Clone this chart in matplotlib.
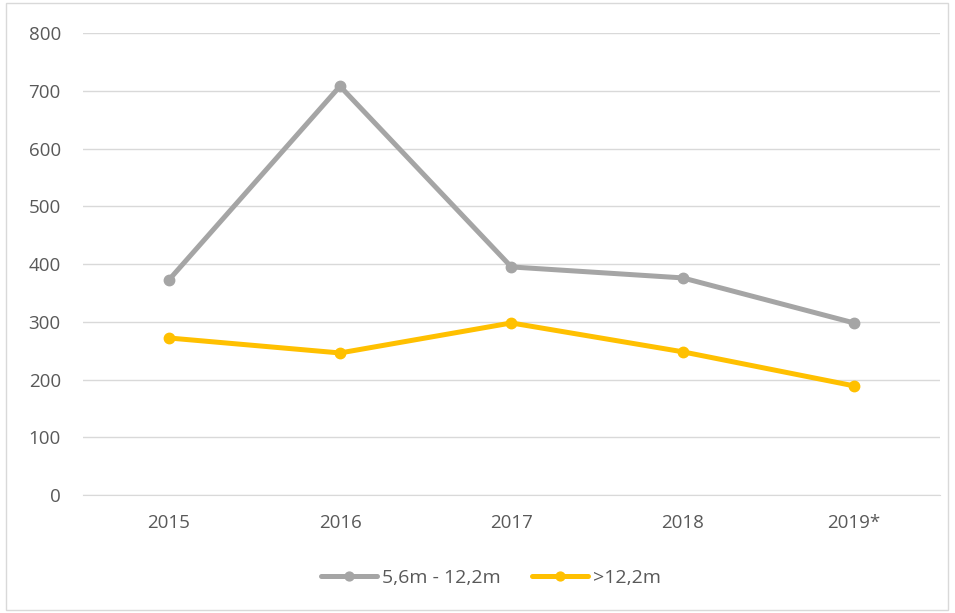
import numpy as np
import matplotlib.pyplot as plt
from matplotlib.patches import Rectangle

plt.rcParams['font.family'] = ['Open Sans', 'DejaVu Sans']

# 数据
years = ['2015', '2016', '2017', '2018', '2019*']
small = [372, 708, 395, 376, 298]   # 5,6m - 12,2m
large = [272, 246, 298, 248, 189]   # >12,2m
yticks = [0, 100, 200, 300, 400, 500, 600, 700, 800]

fig = plt.figure(figsize=(9.55, 6.13), dpi=100)
ax = fig.add_axes([0.0869, 0.1925, 0.8971, 0.7535])

# 外框
fig.patches.append(Rectangle((6 / 955, 3 / 613), 942 / 955, 607 / 613, transform=fig.transFigure,
                             fill=False, edgecolor='#D9D9D9', linewidth=1))

x = np.arange(len(years))
ax.plot(x, small, color='#A5A5A5', lw=3.6, marker='o', ms=7.5, label='5,6m - 12,2m', solid_capstyle='round')
ax.plot(x, large, color='#FFC000', lw=3.6, marker='o', ms=7.5, label='>12,2m', solid_capstyle='round')

ax.set_xlim(-0.5, len(years) - 0.5)
ax.set_ylim(0, 800)
ax.set_yticks(yticks)
ax.set_xticks(x)
ax.set_xticklabels(years)
ax.grid(axis='y', color='#D9D9D9', lw=1)
ax.set_axisbelow(True)
for s in ['top', 'right', 'left']:
    ax.spines[s].set_visible(False)
ax.spines['bottom'].set_color('#D9D9D9')
ax.tick_params(length=0, labelsize=13.5, colors='#595959')
ax.tick_params(axis='y', pad=16)
ax.tick_params(axis='x', pad=14)

ax.legend(loc='center', bbox_to_anchor=(0.476, -0.18), ncol=2, frameon=False,
          fontsize=14, labelcolor='#595959', handlelength=2.9, handletextpad=0.25,
          columnspacing=1.6, markerscale=0.85)

plt.savefig('out.png', dpi=100)
